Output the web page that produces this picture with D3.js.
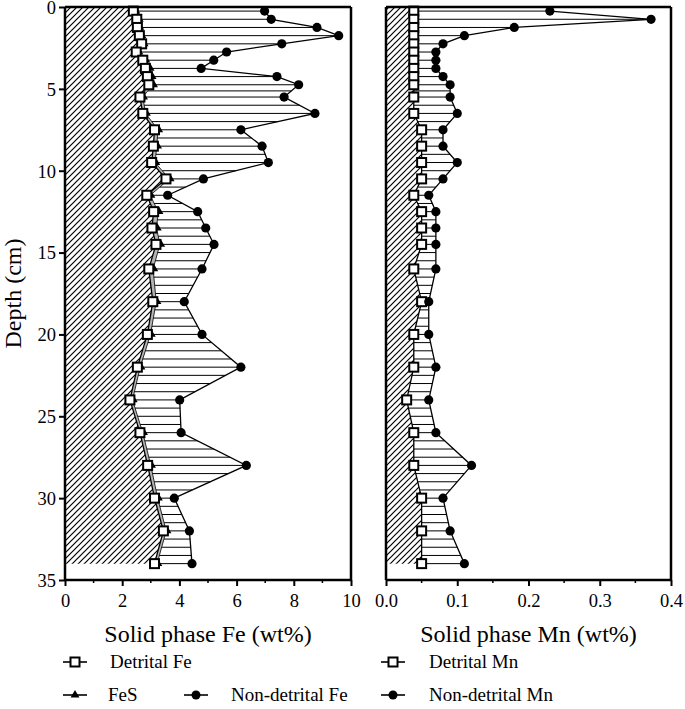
<!DOCTYPE html>
<html><head><meta charset="utf-8">
<script src="https://cdn.jsdelivr.net/npm/d3@7"></script>
</head><body><svg id="c" width="685" height="709"></svg>
<script>
// ---- data ----
const depths = [0.25,0.75,1.25,1.75,2.25,2.75,3.25,3.75,4.25,4.75,5.5,6.5,7.5,8.5,9.5,10.5,11.5,12.5,13.5,14.5,16,18,20,22,24,26,28,30,32,34];
const detritalFe = [2.39,2.51,2.53,2.60,2.68,2.49,2.72,2.81,2.88,2.93,2.62,2.72,3.13,3.09,3.03,3.53,2.86,3.10,3.04,3.18,2.93,3.07,2.88,2.53,2.27,2.62,2.89,3.13,3.44,3.13];
const fesFe = [2.45,2.57,2.59,2.66,2.74,2.56,2.80,2.95,3.02,3.07,2.72,2.82,3.25,3.21,3.15,3.65,2.98,3.26,3.20,3.32,3.08,3.19,2.99,2.63,2.36,2.72,3.00,3.24,3.54,3.22];
const nonDetritalFe = [6.98,7.21,8.81,9.57,7.58,5.65,5.20,4.76,7.41,8.17,7.66,8.74,6.15,6.89,7.11,4.84,3.59,4.64,4.92,5.21,4.79,4.17,4.79,6.15,4.01,4.06,6.34,3.82,4.35,4.44];
const detritalMn = [0.039,0.039,0.039,0.039,0.039,0.039,0.039,0.039,0.039,0.039,0.039,0.039,0.05,0.05,0.05,0.05,0.039,0.05,0.05,0.05,0.039,0.05,0.039,0.039,0.029,0.039,0.039,0.05,0.05,0.05];
const nonDetritalMn = [0.23,0.372,0.18,0.11,0.08,0.07,0.07,0.07,0.08,0.09,0.09,0.10,0.08,0.08,0.10,0.08,0.06,0.07,0.07,0.07,0.07,0.06,0.06,0.07,0.06,0.07,0.12,0.08,0.09,0.11];
const depthTicks = [0,5,10,15,20,25,30,35];
const feTicks = [0,2,4,6,8,10];
const feMinor = [1,3,5,7,9];
const mnTicks = [0,0.1,0.2,0.3,0.4];
const mnMinor = [0.05,0.15,0.25,0.35];

d3.select("body").style("margin","0").style("background","#fff");
const FONT = '"Liberation Serif"';
const svg = d3.select("#c").style("display","block").attr("font-family","Liberation Serif");
const y = d3.scaleLinear().domain([0,35]).range([7,580]);
const xFe = d3.scaleLinear().domain([0,10]).range([65,351]);
const xMn = d3.scaleLinear().domain([0,0.4]).range([386,671]);

const defs = svg.append("defs");
const pat = defs.append("pattern").attr("id","diag").attr("patternUnits","userSpaceOnUse")
  .attr("width",6).attr("height",6);
pat.append("path").attr("d","M-1,1 l2,-2 M0,6 l6,-6 M5,7 l2,-2").attr("stroke","#000").attr("stroke-width",1.2);

function label(sel){ return sel.style("font-family",FONT); }

function panel(x, det, fes, nonDet, dFmt) {
  const g = svg.append("g");
  const hd = [0].concat(depths), hx = [det[0]].concat(det);
  g.append("path").attr("d", d3.area().x0(x(0)).x1((d,i)=>x(hx[i])).y(d=>y(d))(hd))
    .attr("fill","url(#diag)");
  const left = fes || det;
  if (fes) {
    g.append("path").attr("d", d3.area().x0((d,i)=>x(det[i])).x1((d,i)=>x(fes[i])).y(d=>y(d))(depths))
      .attr("fill","#b4b4b4");
  }
  const hl = [];
  for (let i=0;i<depths.length-1;i++){
    const n = Math.max(1, Math.round((depths[i+1]-depths[i])/0.5));
    for (let k=0;k<n;k++){
      const t=k/n;
      hl.push({d:depths[i]+t*(depths[i+1]-depths[i]), a:left[i]+t*(left[i+1]-left[i]), b:nonDet[i]+t*(nonDet[i+1]-nonDet[i])});
    }
  }
  const L = depths.length-1;
  hl.push({d:depths[L], a:left[L], b:nonDet[L]});
  g.selectAll(null).data(hl).join("line")
    .attr("x1",d=>x(d.a)).attr("x2",d=>x(d.b)).attr("y1",d=>y(d.d)).attr("y2",d=>y(d.d))
    .attr("stroke","#000").attr("stroke-width",1);
  const ln = arr => d3.line().x((d,i)=>x(arr[i])).y(d=>y(d))(depths);
  if (fes) g.append("path").attr("d",ln(fes)).attr("fill","none").attr("stroke","#000").attr("stroke-width",0.8);
  g.append("path").attr("d",ln(det)).attr("fill","none").attr("stroke","#000").attr("stroke-width",1.3);
  g.append("path").attr("d",ln(nonDet)).attr("fill","none").attr("stroke","#000").attr("stroke-width",1.3);
  if (fes) g.selectAll(null).data(depths).join("path")
    .attr("d",d3.symbol(d3.symbolTriangle,30)()).attr("transform",(d,i)=>`translate(${x(fes[i])+1},${y(d)})`).attr("fill","#000");
  g.selectAll(null).data(depths).join("rect")
    .attr("x",(d,i)=>x(det[i])-4.5).attr("y",d=>y(d)-4.5).attr("width",9).attr("height",9)
    .attr("fill","#fff").attr("stroke","#000").attr("stroke-width",2);
  g.selectAll(null).data(depths).join("circle")
    .attr("cx",(d,i)=>x(nonDet[i])).attr("cy",d=>y(d)).attr("r",4.6).attr("fill","#000");

  const [x0,x1] = x.range();
  const fr = svg.append("g").attr("stroke","#000").attr("stroke-width",2.5).attr("fill","none");
  fr.append("line").attr("x1",x0).attr("x2",x1).attr("y1",y(0)).attr("y2",y(0));
  fr.append("line").attr("x1",x1).attr("x2",x1).attr("y1",y(0)).attr("y2",y(35));
  fr.append("line").attr("x1",x0).attr("x2",x0).attr("y1",y(0)).attr("y2",y(35));
  const ax = svg.append("g").attr("transform",`translate(0,${y(35)})`)
    .call(d3.axisBottom(x).tickValues(x===xFe?feTicks:mnTicks).tickSize(6).tickPadding(8).tickFormat(dFmt));
  ax.attr("font-family","Liberation Serif").attr("font-size",18.5);
  ax.select(".domain").attr("stroke-width",2.5).attr("d",`M${x0},0H${x1}`);
  ax.selectAll(".tick line").attr("stroke-width",2);
  label(ax.selectAll("text")).style("font-size","18.5px");
  svg.append("g").attr("transform",`translate(0,${y(35)})`).selectAll(null).data(x===xFe?feMinor:mnMinor).join("line")
    .attr("x1",d=>x(d)).attr("x2",d=>x(d)).attr("y1",0).attr("y2",3).attr("stroke","#000").attr("stroke-width",1.5);
}
panel(xFe, detritalFe, fesFe, nonDetritalFe, d3.format("d"));
panel(xMn, detritalMn, null, nonDetritalMn, d3.format(".1f"));

const ay = svg.append("g").attr("transform",`translate(${xFe(0)},0)`)
  .call(d3.axisLeft(y).tickValues(depthTicks).tickSize(6).tickPadding(3));
ay.attr("font-family","Liberation Serif").attr("font-size",18.5);
ay.select(".domain").remove();
ay.selectAll(".tick line").attr("stroke-width",2);
label(ay.selectAll("text")).attr("dy","0.34em").style("font-size","18.5px");

label(svg.append("text")).attr("transform",`translate(21,${(y(0)+y(35))/2}) rotate(-90)`).attr("text-anchor","middle")
  .style("font-size","24px").text("Depth (cm)");
label(svg.append("text")).attr("x",(xFe(0)+xFe(10))/2).attr("y",642).attr("text-anchor","middle")
  .style("font-size","24px").text("Solid phase Fe (wt%)");
label(svg.append("text")).attr("x",(xMn(0)+xMn(0.4))/2).attr("y",642).attr("text-anchor","middle")
  .style("font-size","24px").text("Solid phase Mn (wt%)");

const legendItems = [
  {t:"Detrital Fe", s:"sq", x:63, tx:110, y:662},
  {t:"Detrital Mn", s:"sq", x:381, tx:429, y:662},
  {t:"FeS", s:"tri", x:63, tx:108, y:695},
  {t:"Non-detrital Fe", s:"ci", x:184, tx:231, y:695},
  {t:"Non-detrital Mn", s:"ci", x:381, tx:429, y:695}
];
const lg = svg.append("g");
legendItems.forEach(it=>{
  lg.append("line").attr("x1",it.x).attr("x2",it.x+24).attr("y1",it.y).attr("y2",it.y).attr("stroke","#000").attr("stroke-width",1.6);
  const cx = it.x+12;
  if (it.s==="sq") lg.append("rect").attr("x",cx-4.5).attr("y",it.y-4.5).attr("width",9).attr("height",9).attr("fill","#fff").attr("stroke","#000").attr("stroke-width",2);
  else if (it.s==="tri") lg.append("path").attr("d",d3.symbol(d3.symbolTriangle,34)()).attr("transform",`translate(${cx},${it.y})`);
  else lg.append("circle").attr("cx",cx).attr("cy",it.y).attr("r",4.5);
  label(lg.append("text")).attr("x",it.tx).attr("y",it.y+6).style("font-size","19px").text(it.t);
});
</script></body></html>
